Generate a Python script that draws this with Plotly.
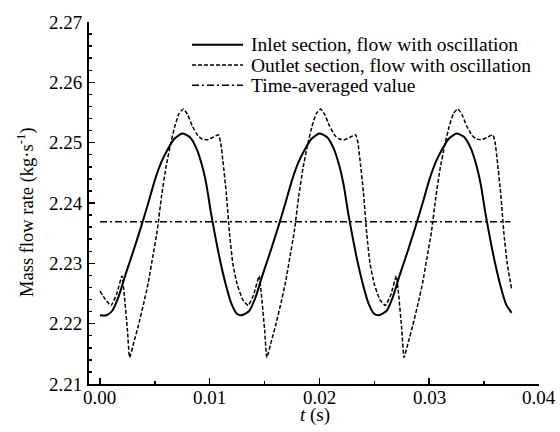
import plotly.graph_objects as go

# ---------------- data ----------------
inlet_t = [
    0.0000, 0.0006, 0.0011, 0.0017, 0.0023, 0.0030, 0.0037, 0.0044, 0.0050, 0.0056, 0.0062, 0.0068,
    0.0075, 0.0082, 0.0088, 0.0093, 0.0097, 0.0101, 0.0105, 0.0110, 0.0115, 0.0120, 0.0125, 0.0129,
    0.0136, 0.0142, 0.0148, 0.0155, 0.0162, 0.0169, 0.0175, 0.0181, 0.0187, 0.0193, 0.0200, 0.0207,
    0.0213, 0.0218, 0.0222, 0.0226, 0.0230, 0.0235, 0.0240, 0.0245, 0.0250, 0.0254,
    0.0261, 0.0267, 0.0273, 0.0280, 0.0287, 0.0294, 0.0300, 0.0306, 0.0312, 0.0318, 0.0325, 0.0332,
    0.0338, 0.0343, 0.0347, 0.0351, 0.0355, 0.0360, 0.0365, 0.0370, 0.0375,
]
inlet_v = [
    2.2214, 2.2214, 2.2221, 2.2245, 2.2280, 2.2318, 2.2358, 2.2400, 2.2438, 2.2468, 2.2490, 2.2507,
    2.2515, 2.2509, 2.2490, 2.2462, 2.2430, 2.2385, 2.2345, 2.2300, 2.2262, 2.2232, 2.2216, 2.2214,
    2.2221, 2.2245, 2.2280, 2.2318, 2.2358, 2.2400, 2.2438, 2.2468, 2.2490, 2.2507, 2.2515, 2.2509,
    2.2490, 2.2462, 2.2430, 2.2385, 2.2345, 2.2300, 2.2262, 2.2232, 2.2216, 2.2214,
    2.2221, 2.2245, 2.2280, 2.2318, 2.2358, 2.2400, 2.2438, 2.2468, 2.2490, 2.2507, 2.2515, 2.2509,
    2.2490, 2.2462, 2.2430, 2.2385, 2.2345, 2.2300, 2.2262, 2.2232, 2.2218,
]

outlet_t = [
    0.0000, 0.0005, 0.0010, 0.0015, 0.0020, 0.0022, 0.0025, 0.0027, 0.0031, 0.0035, 0.0040, 0.0044,
    0.0048, 0.0052, 0.0056, 0.0060, 0.0064, 0.0068, 0.0072, 0.0076, 0.0080, 0.0084, 0.0089, 0.0093,
    0.0098, 0.0103, 0.0108, 0.0110, 0.0112, 0.0115, 0.0118, 0.0121, 0.0125, 0.0130, 0.0135,
    0.0140, 0.0145, 0.0147, 0.0150, 0.0152, 0.0156, 0.0160, 0.0165, 0.0169, 0.0173, 0.0177, 0.0181,
    0.0185, 0.0189, 0.0193, 0.0197, 0.0201, 0.0205, 0.0209, 0.0214, 0.0218, 0.0223, 0.0228, 0.0233,
    0.0235, 0.0237, 0.0240, 0.0243, 0.0246, 0.0250, 0.0255, 0.0260,
    0.0265, 0.0270, 0.0272, 0.0275, 0.0277, 0.0281, 0.0285, 0.0290, 0.0294, 0.0298, 0.0302, 0.0306,
    0.0310, 0.0314, 0.0318, 0.0322, 0.0326, 0.0330, 0.0334, 0.0339, 0.0343, 0.0348, 0.0353, 0.0358,
    0.0360, 0.0362, 0.0365, 0.0368, 0.0371, 0.0375,
]
outlet_v = [
    2.2254, 2.2240, 2.2230, 2.2248, 2.2279, 2.2250, 2.2190, 2.2144, 2.2170, 2.2197, 2.2235, 2.2268,
    2.2310, 2.2352, 2.2410, 2.2458, 2.2495, 2.2526, 2.2548, 2.2556, 2.2546, 2.2528, 2.2512, 2.2506,
    2.2505, 2.2509, 2.2513, 2.2500, 2.2470, 2.2418, 2.2350, 2.2300, 2.2265, 2.2240, 2.2230,
    2.2248, 2.2279, 2.2250, 2.2190, 2.2144, 2.2170, 2.2197, 2.2235, 2.2268, 2.2310, 2.2352, 2.2410,
    2.2458, 2.2495, 2.2526, 2.2548, 2.2556, 2.2546, 2.2528, 2.2512, 2.2506, 2.2505, 2.2509, 2.2513,
    2.2500, 2.2470, 2.2418, 2.2350, 2.2300, 2.2265, 2.2240, 2.2230,
    2.2248, 2.2279, 2.2250, 2.2190, 2.2144, 2.2170, 2.2197, 2.2235, 2.2268, 2.2310, 2.2352, 2.2410,
    2.2458, 2.2495, 2.2526, 2.2548, 2.2556, 2.2546, 2.2528, 2.2512, 2.2506, 2.2505, 2.2509, 2.2513,
    2.2500, 2.2470, 2.2418, 2.2350, 2.2300, 2.2258,
]

avg_t = [0.0000, 0.0374]
avg_v = [2.2369, 2.2369]

series_names = [
    "Inlet section, flow with oscillation",
    "Outlet section, flow with oscillation",
    "Time-averaged value",
]

x_ticks = [0.00, 0.01, 0.02, 0.03, 0.04]
x_ticklabels = ["0.00", "0.01", "0.02", "0.03", "0.04"]
y_ticks = [2.21, 2.22, 2.23, 2.24, 2.25, 2.26, 2.27]
y_ticklabels = ["2.21", "2.22", "2.23", "2.24", "2.25", "2.26", "2.27"]

x_title = "<i>t</i> (s)"
y_title = "Mass flow rate (kg·s<sup>-1</sup>)"

# ---------------- figure ----------------
FONT = "Liberation Serif, Times New Roman, serif"
styles = [
    dict(color="black", width=2, shape="spline", smoothing=0.6),
    dict(color="black", width=1.5, dash="4px,2px", shape="spline", smoothing=0.4),
    dict(color="black", width=1.5, dash="7px,3px,2px,3px"),
]

fig = go.Figure()
for (xs, ys), name, st in zip([(inlet_t, inlet_v), (outlet_t, outlet_v), (avg_t, avg_v)],
                              series_names, styles):
    fig.add_trace(go.Scatter(x=xs, y=ys, mode="lines", name=name, line=st, showlegend=False))

# pixel -> paper helpers for the plot area
L = 89.0; T = 18.0; W = 450.0; H = 366.0
def px(xp): return (xp - L) / W
def py(yp): return (T + H - yp) / H

# hand-built legend (tight row spacing like the reference)
row_y = [41, 61.5, 82]
shapes = []
annotations = []
for name, st, yy in zip(series_names, styles, row_y):
    line = dict(color="black", width=st["width"])
    if "dash" in st:
        line["dash"] = st["dash"]
    shapes.append(dict(type="line", xref="paper", yref="paper",
                       x0=px(192), x1=px(243), y0=py(yy), y1=py(yy), line=line))
    annotations.append(dict(text=name, xref="paper", yref="paper", x=px(249), y=py(yy),
                            xanchor="left", yanchor="middle", showarrow=False,
                            font=dict(family=FONT, size=19.5, color="black")))

# x tick labels placed close under the axis, like the reference
for tv, tl in zip(x_ticks, x_ticklabels):
    annotations.append(dict(text=tl, xref="x", yref="paper", x=tv, y=py(398),
                            xanchor="center", yanchor="middle", showarrow=False,
                            font=dict(family=FONT, size=19, color="black")))

annotations.append(dict(text=x_title, xref="paper", yref="paper", x=px(315), y=py(415),
                        xanchor="center", yanchor="middle", showarrow=False,
                        font=dict(family=FONT, size=19, color="black")))
annotations.append(dict(text=y_title, xref="paper", yref="paper", x=px(26), y=py(210),
                        xanchor="center", yanchor="middle", showarrow=False, textangle=-90,
                        font=dict(family=FONT, size=18.5, color="black")))

fig.update_layout(
    width=560, height=432,
    margin=dict(l=89, r=21, t=18, b=48),
    paper_bgcolor="white", plot_bgcolor="white",
    font=dict(family=FONT, size=19, color="black"),
    showlegend=False,
    hovermode=False,
    shapes=shapes,
    annotations=annotations,
    xaxis=dict(
        range=[-0.001, 0.04],
        tickmode="array", tickvals=x_ticks, ticktext=x_ticklabels,
        showticklabels=False,
        ticks="inside", ticklen=6, tickwidth=1.5, tickcolor="black",
        minor=dict(dtick=0.005, tick0=0, ticks="inside", ticklen=3, tickwidth=1.5, tickcolor="black"),
        showline=True, linecolor="black", linewidth=2,
        showgrid=False, zeroline=False, mirror=False,
    ),
    yaxis=dict(
        range=[2.21, 2.27],
        tickmode="array", tickvals=y_ticks, ticktext=y_ticklabels,
        ticks="inside", ticklen=6, tickwidth=1.5, tickcolor="black",
        minor=dict(dtick=0.002, tick0=2.21, ticks="inside", ticklen=3, tickwidth=1.5, tickcolor="black"),
        showline=True, linecolor="black", linewidth=2,
        showgrid=False, zeroline=False, mirror=False,
        tickfont=dict(family=FONT, size=19),
        ticklabelstandoff=1,
    ),
)

fig.write_html(
    "out.html",
    config={"displayModeBar": False, "staticPlot": True},
    post_script="document.body.style.margin='0';document.body.style.padding='0';"
                "document.documentElement.style.overflow='hidden';",
)
